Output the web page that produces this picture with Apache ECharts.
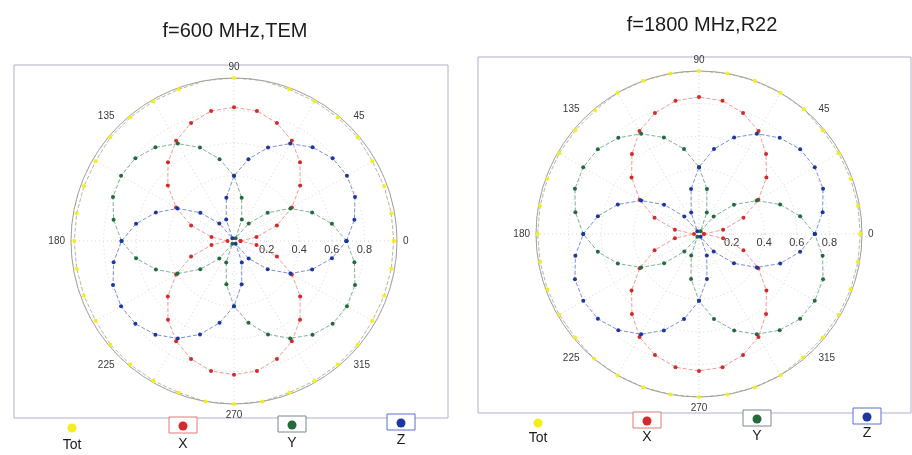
<!DOCTYPE html>
<html>
<head>
<meta charset="utf-8">
<script src="https://cdn.jsdelivr.net/npm/echarts@6/dist/echarts.min.js"></script>
<style>
html,body{margin:0;padding:0;background:#fff;}
#c{width:912px;height:455px;}
</style>
</head>
<body>
<div id="c"></div>
<script>
// ---- data ----
var titles = ['f=600 MHz,TEM', 'f=1800 MHz,R22'];
var legendNames = ['Tot', 'X', 'Y', 'Z'];
var angleTicks = [0, 45, 90, 135, 180, 225, 270, 315];
var radiusTicks = [0.2, 0.4, 0.6, 0.8];
var angles = [0,10,20,30,40,50,60,70,80,90,100,110,120,130,140,150,160,170,180,
              190,200,210,220,230,240,250,260,270,280,290,300,310,320,330,340,350,360];

// f=600 MHz, TEM
var tot600 = [0.98,0.98,0.98,0.98,0.99,0.99,0.99,0.99,1.00,1.00,1.00,0.99,0.99,0.99,0.99,0.98,0.98,0.98,0.98,
              0.98,0.98,0.98,0.99,0.99,0.99,0.99,1.00,1.00,1.00,0.99,0.99,0.99,0.99,0.98,0.98,0.98,0.98];
var x600 = [0.04,0.14,0.28,0.41,0.53,0.63,0.71,0.77,0.81,0.82,0.81,0.77,0.71,0.63,0.53,0.41,0.28,0.14,0.04,
            0.14,0.28,0.41,0.53,0.63,0.71,0.77,0.81,0.82,0.81,0.77,0.71,0.63,0.53,0.41,0.28,0.14,0.04];
var y600 = [0.69,0.61,0.51,0.40,0.27,0.14,0.02,0.14,0.27,0.40,0.51,0.61,0.69,0.75,0.79,0.80,0.79,0.75,0.69,
            0.61,0.51,0.40,0.27,0.14,0.02,0.14,0.27,0.40,0.51,0.61,0.69,0.75,0.79,0.80,0.79,0.75,0.69];
var z600 = [0.69,0.75,0.79,0.80,0.79,0.75,0.69,0.61,0.51,0.40,0.27,0.14,0.02,0.14,0.27,0.40,0.51,0.61,0.69,
            0.75,0.79,0.80,0.79,0.75,0.69,0.61,0.51,0.40,0.27,0.14,0.02,0.14,0.27,0.40,0.51,0.61,0.69];

// f=1800 MHz, R22
var tot1800 = [0.99,0.99,0.99,0.99,0.99,1.00,1.00,1.00,1.00,1.00,1.00,1.00,1.00,0.99,0.99,0.99,0.99,0.99,0.99,
               0.99,0.99,0.99,0.99,1.00,1.00,1.00,1.00,1.00,1.00,1.00,1.00,0.99,0.99,0.99,0.99,0.99,0.99];
var x1800 = [0.03,0.15,0.29,0.42,0.54,0.64,0.73,0.79,0.83,0.84,0.83,0.79,0.73,0.64,0.54,0.42,0.29,0.15,0.03,
             0.15,0.29,0.42,0.54,0.64,0.73,0.79,0.83,0.84,0.83,0.79,0.73,0.64,0.54,0.42,0.29,0.15,0.03];
var y1800 = [0.71,0.63,0.53,0.41,0.28,0.14,0.02,0.14,0.28,0.41,0.53,0.63,0.71,0.77,0.81,0.82,0.81,0.77,0.71,
             0.63,0.53,0.41,0.28,0.14,0.02,0.14,0.28,0.41,0.53,0.63,0.71,0.77,0.81,0.82,0.81,0.77,0.71];
var z1800 = [0.71,0.77,0.81,0.82,0.81,0.77,0.71,0.63,0.53,0.41,0.28,0.14,0.02,0.14,0.28,0.41,0.53,0.63,0.71,
             0.77,0.81,0.82,0.81,0.77,0.71,0.63,0.53,0.41,0.28,0.14,0.02,0.14,0.28,0.41,0.53,0.63,0.71];

// ---- styling / layout ----
var FONT = 'Liberation Sans, Arial, sans-serif';
var colors = {
  Tot: {marker: '#f4ee1c', line: '#a8a47a'},
  X:   {marker: '#d42a2a', line: '#ec8080'},
  Y:   {marker: '#236b3c', line: '#5d9c78'},
  Z:   {marker: '#1d36a0', line: '#5a72c8'}
};
var panels = [
  {title: titles[0], titleX: 230, titleY: 16, center: [234, 241], radius: 163,
   frame: {x: 14, y: 65, w: 434, h: 353},
   data: {Tot: tot600, X: x600, Y: y600, Z: z600},
   legend: [{x: 72, y: 427, ty: 445, box: false},
            {x: 183, y: 425, ty: 444, box: true, border: '#e07a7a'},
            {x: 292, y: 424, ty: 443, box: true, border: '#7a8890'},
            {x: 401, y: 422, ty: 440, box: true, border: '#5a70d0'}]},
  {title: titles[1], titleX: 697, titleY: 10, center: [699, 234], radius: 163,
   frame: {x: 478, y: 57, w: 433, h: 356},
   data: {Tot: tot1800, X: x1800, Y: y1800, Z: z1800},
   legend: [{x: 538, y: 422, ty: 438, box: false},
            {x: 647, y: 420, ty: 437, box: true, border: '#e07a7a'},
            {x: 757, y: 418, ty: 436, box: true, border: '#7a8890'},
            {x: 867, y: 416, ty: 433, box: true, border: '#5a70d0'}]}
];

function pairs(vals) {
  return vals.map(function (v, i) { return [v, angles[i]]; });
}

var option = {
  backgroundColor: '#ffffff',
  animation: false,
  title: [],
  polar: [],
  angleAxis: [],
  radiusAxis: [],
  series: [],
  graphic: []
};

panels.forEach(function (p, pi) {
  option.title.push({
    text: p.title, left: p.titleX, top: p.titleY, textAlign: 'center',
    textStyle: {fontFamily: FONT, fontSize: 20, fontWeight: 'normal', color: '#1c1c1c'}
  });
  // frame
  option.graphic.push({
    type: 'rect', z: -1,
    shape: {x: p.frame.x, y: p.frame.y, width: p.frame.w, height: p.frame.h},
    style: {fill: '#ffffff', stroke: '#b4aecb', lineWidth: 1}
  });
  // grid polar (spokes every 30°, circles every 0.2)
  var gIdx = option.polar.length;
  option.polar.push({center: p.center, radius: p.radius});
  option.angleAxis.push({
    polarIndex: gIdx, type: 'value', min: 0, max: 360, interval: 30,
    startAngle: 0, clockwise: false,
    axisLine: {show: true, lineStyle: {color: '#a0a0a0', width: 1}},
    axisTick: {show: false}, axisLabel: {show: false},
    splitLine: {show: true, lineStyle: {color: '#d6d6d6', type: [1, 3], width: 1}}
  });
  option.radiusAxis.push({
    polarIndex: gIdx, type: 'value', min: 0, max: 1, interval: 0.2,
    axisLine: {show: false}, axisTick: {show: false},
    axisLabel: {
      show: true, fontFamily: FONT, fontSize: 11, color: '#3a3a3a', margin: -3,
      verticalAlign: 'top',
      formatter: function (v) {
        var r = Math.round(v * 10) / 10;
        return radiusTicks.indexOf(r) >= 0 ? r.toFixed(1) : '';
      }
    },
    splitLine: {show: true, lineStyle: {color: '#d6d6d6', type: [1, 3], width: 1}}
  });
  // label polar (angle labels every 45°)
  var lIdx = option.polar.length;
  option.polar.push({center: p.center, radius: p.radius});
  option.angleAxis.push({
    polarIndex: lIdx, type: 'value', min: 0, max: 360, interval: 45,
    startAngle: 0, clockwise: false,
    axisLine: {show: false}, axisTick: {show: false},
    axisLabel: {
      show: true, fontFamily: FONT, fontSize: 10, color: '#3a3a3a', margin: 6,
      formatter: function (v) { return angleTicks.indexOf(v) >= 0 ? String(v) : ''; }
    },
    splitLine: {show: false}
  });
  option.radiusAxis.push({
    polarIndex: lIdx, type: 'value', min: 0, max: 1,
    axisLine: {show: false}, axisTick: {show: false}, axisLabel: {show: false},
    splitLine: {show: false}
  });
  // series
  legendNames.forEach(function (name) {
    option.series.push({
      name: name + (pi + 1), type: 'line', coordinateSystem: 'polar', polarIndex: lIdx,
      data: pairs(p.data[name]),
      symbol: 'circle', symbolSize: 4,
      itemStyle: {color: colors[name].marker},
      lineStyle: {color: colors[name].line, width: 0.8, type: [4, 2]},
      z: name === 'Tot' ? 2 : 3
    });
  });
  // legend (drawn as graphics, text below marker)
  p.legend.forEach(function (L, li) {
    var name = legendNames[li];
    if (L.box) {
      option.graphic.push({
        type: 'rect', shape: {x: L.x - 14, y: L.y - 8, width: 28, height: 16},
        style: {fill: '#ffffff', stroke: L.border, lineWidth: 1}
      });
    }
    option.graphic.push({
      type: 'circle', shape: {cx: L.x, cy: L.y + 1, r: 4.5},
      style: {fill: colors[name].marker}
    });
    option.graphic.push({
      type: 'text', x: L.x, y: L.ty,
      style: {text: name, fontFamily: FONT, fontSize: 14, fill: '#1c1c1c',
              textAlign: 'center', textVerticalAlign: 'middle'}
    });
  });
});

var chart = echarts.init(document.getElementById('c'), null, {renderer: 'canvas'});
chart.setOption(option);
</script>
</body>
</html>
